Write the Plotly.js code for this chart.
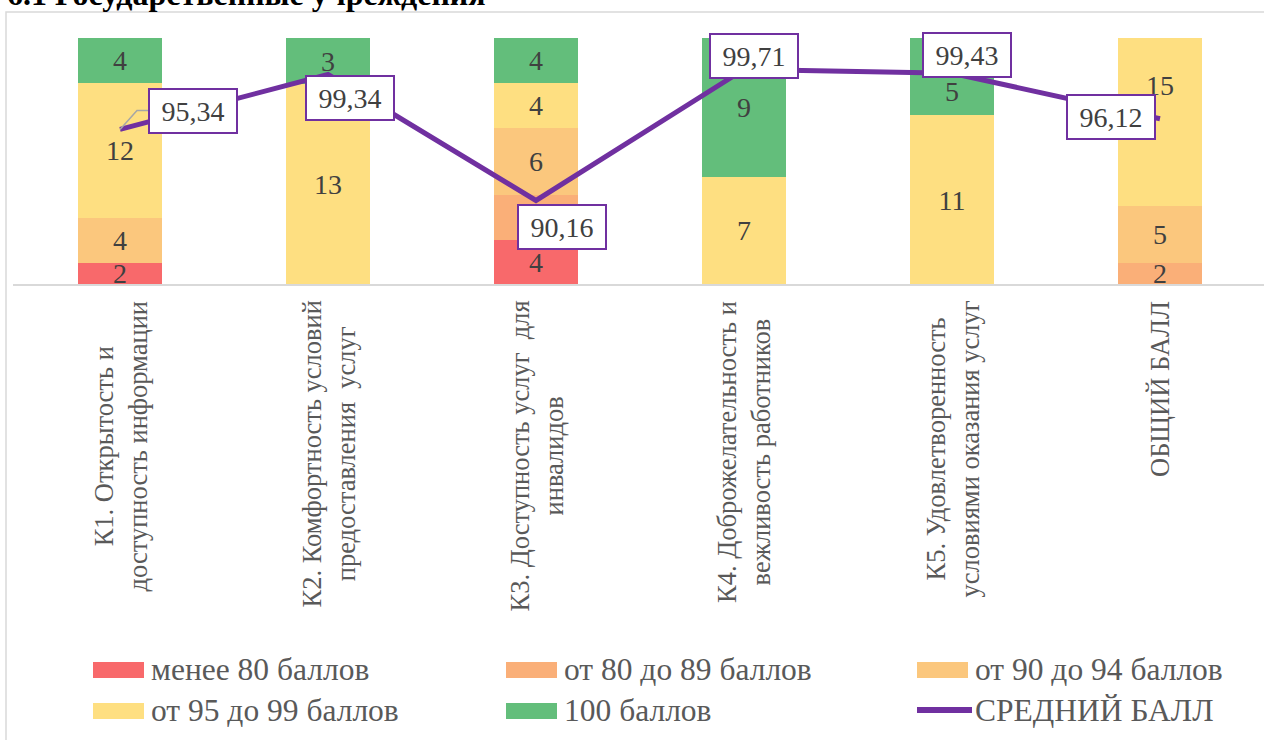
<!DOCTYPE html>
<html>
<head>
<meta charset="utf-8">
<script src="https://cdn.plot.ly/plotly-3.0.1.min.js"></script>
<style>
html,body{margin:0;padding:0;background:#fff;overflow:hidden;}
#chart{width:1264px;height:740px;}
</style>
</head>
<body>
<div id="chart"></div>
<script>
// ---- data ----
const categories = [
  "К1. Открытость и<br>доступность информации",
  "К2. Комфортность условий<br>предоставления  услуг",
  "К3. Доступность услуг  для<br>инвалидов",
  "К4. Доброжелательность и<br>вежливость работников",
  "К5. Удовлетворенность<br>условиями оказания услуг",
  "ОБЩИЙ БАЛЛ"
];
const seriesNames = ["менее 80 баллов", "от 80 до 89 баллов", "от 90 до 94 баллов", "от 95 до 99 баллов", "100 баллов"];
const lineName = "СРЕДНИЙ БАЛЛ";
const less80     = [2, null, 4, null, null, null];
const from80to89 = [null, null, 4, null, null, 2];
const from90to94 = [4, null, 6, null, null, 5];
const from95to99 = [12, 13, 4, 7, 11, 15];
const score100   = [4, 3, 4, 9, 5, null];
const avgScore   = [95.34, 99.34, 90.16, 99.71, 99.43, 96.12];
const titleText  = "6.1 Государственные учреждения";

// ---- styles / layout constants ----
const barColors = ["#F8696B", "#FAAF78", "#FBC77D", "#FEDF81", "#63BE7B"];
const lineColor = "#7030A0";
const FONT = "Liberation Serif, Times New Roman, serif";
const W = 1264, H = 740, ML = 16, MR = 0, MT = 38, MB = 455;
const plotW = W - ML - MR, plotH = H - MT - MB;
const px2x = px => (px - ML) / plotW;
const px2y = py => (H - MB - py) / plotH;
const labelOffsets = [[73, -18], [22, 23], [26, 27], [10, -13], [15, -18], [-49, -2]];
// bar value labels that were moved by hand in the original: [series index, category index, pixel shift]
const movedLabels = [[4, 4, -15], [3, 5, 37]];

const seriesData = [less80, from80to89, from90to94, from95to99, score100];
const isMoved = (s, c) => movedLabels.some(m => m[0] === s && m[1] === c);

const traces = seriesData.map((vals, i) => ({
  type: "bar",
  name: seriesNames[i],
  x: categories,
  y: vals,
  text: vals.map((v, c) => (v == null || isMoved(i, c)) ? "" : String(v)),
  textposition: "inside",
  insidetextanchor: "middle",
  textangle: 0,
  constraintext: "none",
  textfont: {family: FONT, size: 28, color: "#404040"},
  marker: {color: barColors[i], line: {width: 0}},
  hoverinfo: "skip",
  showlegend: false
}));
traces.push({
  type: "scatter",
  mode: "lines",
  name: lineName,
  x: categories,
  y: avgScore,
  yaxis: "y2",
  line: {color: lineColor, width: 5},
  hoverinfo: "skip",
  showlegend: false
});

const annotations = [];
const shapes = [];

// moved bar value labels
movedLabels.forEach(([s, c, shift]) => {
  const total = seriesData.reduce((a, arr) => a + (arr[c] || 0), 0);
  let below = 0;
  for (let k = 0; k < s; k++) below += (seriesData[k][c] || 0);
  const v = seriesData[s][c];
  annotations.push({
    xref: "x", yref: "y", x: categories[c], y: (below + v / 2) / total * 100,
    yshift: shift, showarrow: false, text: String(v),
    font: {family: FONT, size: 28, color: "#404040"}
  });
});

// data labels for the average line
avgScore.forEach((v, i) => {
  annotations.push({
    xref: "x", yref: "y2", x: categories[i], y: v,
    text: v.toFixed(2).replace(".", ","),
    showarrow: true, arrowhead: 0, arrowwidth: 1.5,
    arrowcolor: "rgba(0,0,0,0)",
    ax: labelOffsets[i][0], ay: labelOffsets[i][1],
    font: {family: FONT, size: 28, color: "#404040"},
    bgcolor: "#ffffff", bordercolor: lineColor, borderwidth: 2, borderpad: 3,
    width: 80, height: 36
  });
});

// leader line for first label (elbow)
(function(){
  const catW = plotW / categories.length;
  const yPerPx = (102 - 84) / plotH;
  const p0x = 0, p0y = avgScore[0];
  const elbowX = p0x + 17 / catW, elbowY = p0y + 19 * yPerPx;
  const endX = p0x + 28 / catW;
  shapes.push({
    type: "path", xref: "x", yref: "y2",
    path: `M ${p0x},${p0y} L ${elbowX},${elbowY} L ${endX},${elbowY}`,
    line: {color: "#A6A6A6", width: 1.5}
  });
})();

// category labels (rotated)
categories.forEach(c => {
  annotations.push({
    xref: "x", yref: "paper", x: c, y: 0, yanchor: "top", xanchor: "center",
    yshift: -14, textangle: -90, align: "center", showarrow: false,
    text: c, font: {family: FONT, size: 26.5, color: "#595959"}
  });
});

// title (cut off at the top edge)
annotations.push({
  xref: "paper", yref: "paper", x: px2x(5), y: px2y(14), xanchor: "left", yanchor: "bottom",
  showarrow: false, text: "<b>" + titleText + "</b>",
  font: {family: FONT, size: 32, color: "#000000"}
});

// frame
shapes.push({
  type: "rect", xref: "paper", yref: "paper",
  x0: px2x(6), x1: px2x(W + 10), y0: px2y(H + 10), y1: px2y(12),
  line: {color: "#D9D9D9", width: 1.5}, fillcolor: "rgba(0,0,0,0)", layer: "below"
});
// axis line
shapes.push({
  type: "line", xref: "paper", yref: "paper",
  x0: px2x(13), x1: px2x(W), y0: 0, y1: 0,
  line: {color: "#D9D9D9", width: 2}
});

// custom legend
const legendItems = seriesNames.map((n, i) => ({name: n, color: barColors[i], kind: "bar"}));
legendItems.push({name: lineName, color: lineColor, kind: "line"});
const colX = [93, 506, 917];
const rowY = [670, 711];
legendItems.forEach((it, k) => {
  const col = k % 3, row = Math.floor(k / 3);
  const x0 = colX[col], yc = rowY[row];
  if (it.kind === "bar") {
    shapes.push({type: "rect", xref: "paper", yref: "paper",
      x0: px2x(x0), x1: px2x(x0 + 51), y0: px2y(yc + 8), y1: px2y(yc - 8),
      fillcolor: it.color, line: {width: 0}});
  } else {
    shapes.push({type: "line", xref: "paper", yref: "paper",
      x0: px2x(x0), x1: px2x(x0 + 55), y0: px2y(yc - 1), y1: px2y(yc - 1),
      line: {color: it.color, width: 6}});
  }
  annotations.push({
    xref: "paper", yref: "paper", x: px2x(x0 + 56), y: px2y(yc - 1),
    xanchor: "left", yanchor: "middle", showarrow: false,
    text: it.name, font: {family: FONT, size: 31.5, color: "#595959"}
  });
});

const layout = {
  width: W, height: H,
  margin: {l: ML, r: MR, t: MT, b: MB, pad: 0},
  paper_bgcolor: "#ffffff", plot_bgcolor: "#ffffff",
  barmode: "stack", barnorm: "percent", bargap: 0.6,
  showlegend: false,
  xaxis: {type: "category", showticklabels: false, showgrid: false, zeroline: false, showline: false, ticks: "", fixedrange: true},
  yaxis: {range: [0, 100], visible: false, fixedrange: true},
  yaxis2: {range: [84, 102], overlaying: "y", visible: false, fixedrange: true},
  annotations: annotations,
  shapes: shapes,
  font: {family: FONT}
};

Plotly.newPlot("chart", traces, layout, {displayModeBar: false, staticPlot: true});
</script>
</body>
</html>
